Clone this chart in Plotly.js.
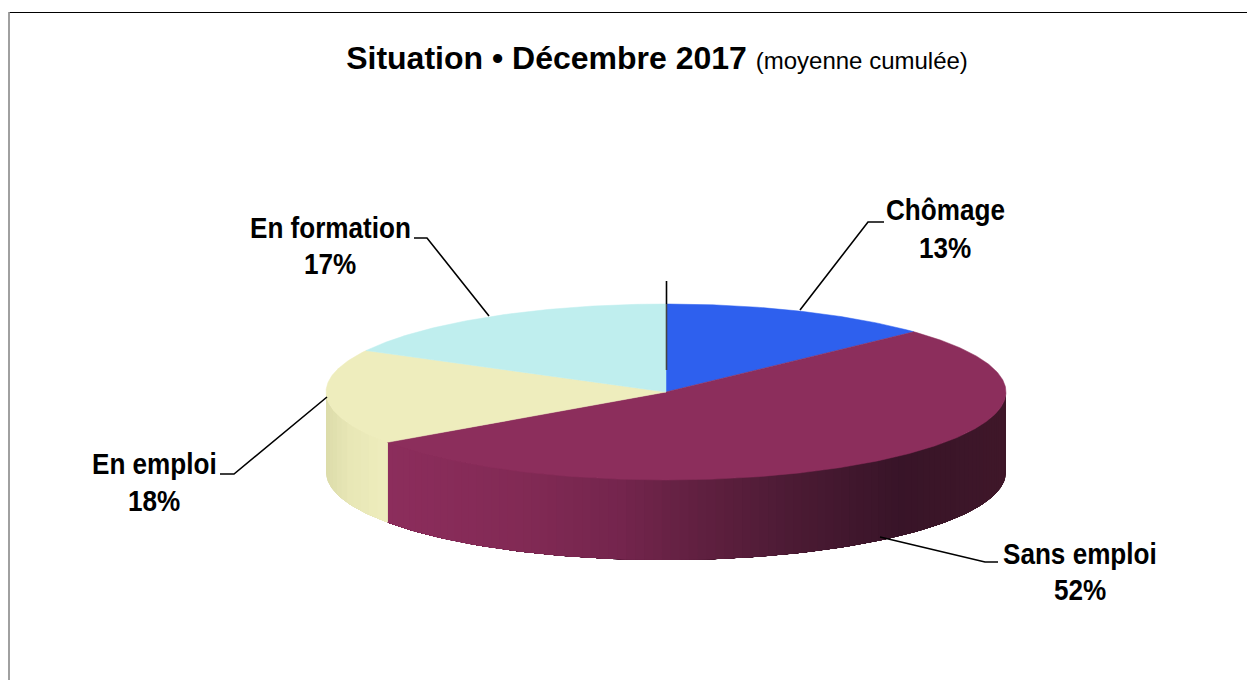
<!DOCTYPE html>
<html><head><meta charset="utf-8">
<script src="https://cdn.plot.ly/plotly-3.0.1.min.js"></script>
<style>html,body{margin:0;padding:0;background:#fff}#c{width:1247px;height:680px}
.annotation-text{transform-box:fill-box;transform-origin:center;transform:scaleX(.87)}</style>
</head><body><div id="c"></div>
<script>
const categories = ['Chômage', 'Sans emploi', 'En emploi', 'En formation'];
const values = [13, 52.3, 17.5, 17.2];
const topColors = ['#2e60ee', '#8c2e5c', '#eeedbd', '#bfeeee'];
const labelX = [945, 1080, 154, 330];
const nameY = [209, 553, 463, 227];
const pctY = [247, 589, 500, 263];
const leaders = [
  [[800,310],[868,222],[884,222]],
  [[880,537],[985,562],[998,562]],
  [[327,397],[234,474],[220,474]],
  [[489,316],[427,238],[414,238]]
];
const cx = 666, cy = 392, rx = 340, ry = 88, depth = 80;
// side-wall shading: [x position, colour]
const wallStops = [
  [[388,[140,45,92]],[520,[130,42,85]],[620,[116,37,77]],[700,[96,32,64]],[800,[74,26,51]],[900,[56,20,40]],[1006,[63,23,41]]],
  [[326,[220,220,170]],[350,[232,231,182]],[388,[238,237,189]]]
];
const pt = (a, dz=0) => {
  const r = a*Math.PI/180;
  return [cx + rx*Math.sin(r), cy - ry*Math.cos(r) + dz];
};
function shade(stops, x){
  for(let i=1;i<stops.length;i++){
    if(x<=stops[i][0]){
      const f=(x-stops[i-1][0])/(stops[i][0]-stops[i-1][0]);
      const c=stops[i-1][1].map((v,k)=>Math.round(v+(stops[i][1][k]-v)*Math.max(0,f)));
      return `rgb(${c})`;
    }
  }
  const c=stops[stops.length-1][1];
  return `rgb(${c})`;
}
const traces=[];
function poly(pts,color,w){
  traces.push({type:'scatter',mode:'lines',x:pts.map(p=>p[0]),y:pts.map(p=>p[1]),
    fill:'toself',fillcolor:color,line:{color:color,width:w},hoverinfo:'skip',showlegend:false});
}
const total = values.reduce((a,b)=>a+b,0);
let acc=0;
const bounds = values.map(v=>{const s=acc/total*360; acc+=v; return [s,acc/total*360];});
function wall(aStart,aEnd,stops,bands){
  for(let i=0;i<bands;i++){
    const s=aStart+(aEnd-aStart)*i/bands;
    const top=[],bot=[];
    const steps=Math.max(8,Math.ceil(Math.abs(aEnd-s)));
    for(let k=0;k<=steps;k++){
      const a=s+(aEnd-s)*k/steps;
      top.push(pt(a)); bot.unshift(pt(a,depth));
    }
    poly(top.concat(bot,[top[0]]),shade(stops,pt(s+(aEnd-aStart)/bands/2)[0]),0);
  }
}
wall(90, bounds[1][1], wallStops[0], 96);
wall(270, bounds[2][0], wallStops[1], 12);
bounds.forEach((b,i)=>{
  const pts=[[cx,cy]];
  for(let a=b[0];a<b[1];a+=0.5) pts.push(pt(a));
  pts.push(pt(b[1]),[cx,cy]);
  poly(pts,topColors[i],0.5);
});
leaders.forEach(l=>{
  traces.push({type:'scatter',mode:'lines',x:l.map(p=>p[0]),y:l.map(p=>p[1]),
    line:{color:'#000',width:1.6},hoverinfo:'skip',showlegend:false});
});
traces.push({type:'scatter',mode:'lines',x:[cx+0.5,cx+0.5],y:[281,304],line:{color:'#000',width:1.6},hoverinfo:'skip',showlegend:false});
traces.push({type:'scatter',mode:'lines',x:[cx+0.5,cx+0.5],y:[304,370],line:{color:'#444',width:1.6},hoverinfo:'skip',showlegend:false});
const labelFont={family:'"Liberation Sans",Arial,sans-serif',size:30,color:'#000',weight:700};
const annotations=categories.flatMap((c,i)=>[
  {x:labelX[i],y:nameY[i],xref:'x',yref:'y',showarrow:false,text:c,font:labelFont},
  {x:labelX[i],y:pctY[i],xref:'x',yref:'y',showarrow:false,text:`${Math.round(values[i])}%`,font:labelFont}
]);
const layout={
  width:1247,height:680,margin:{l:0,r:0,t:0,b:0},paper_bgcolor:'#fff',plot_bgcolor:'#fff',showlegend:false,
  title:{text:'<b>Situation • Décembre 2017</b> <span style="font-size:24px">(moyenne cumulée)</span>',
    font:{family:'"Liberation Sans",Arial,sans-serif',size:32,color:'#000'},
    x:657/1247,xanchor:'center',y:1-58/680,yanchor:'middle'},
  xaxis:{range:[0,1247],visible:false,fixedrange:true},
  yaxis:{range:[680,0],visible:false,fixedrange:true},
  annotations,
  shapes:[
    {type:'line',xref:'x',yref:'y',x0:9.5,x1:1247,y0:12.5,y1:12.5,line:{color:'#000',width:1}},
    {type:'line',xref:'x',yref:'y',x0:9,x1:9,y0:12,y1:680,line:{color:'#808080',width:1.5}}
  ]
};
Plotly.newPlot('c',traces,layout,{staticPlot:true,displayModeBar:false});
</script></body></html>
